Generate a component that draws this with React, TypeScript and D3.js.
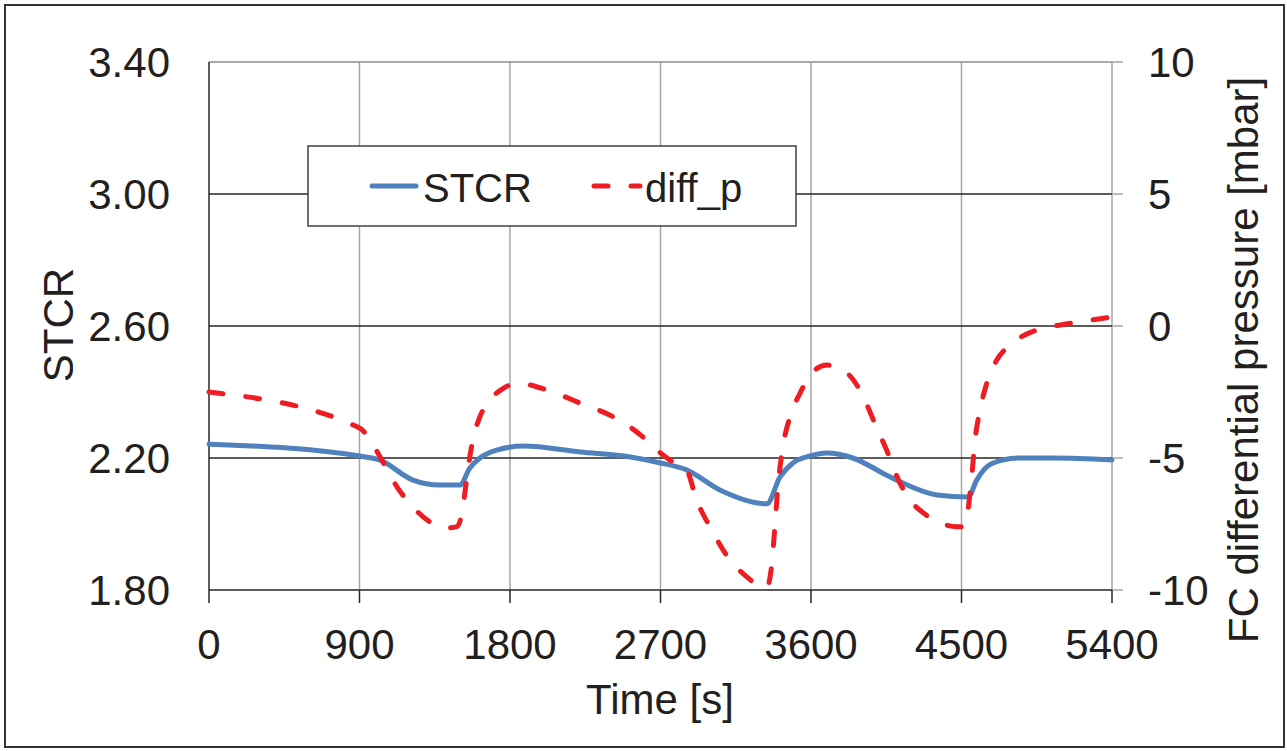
import React from 'react';
import * as d3 from 'd3';

// Data
const stcrTime = [0, 900, 1020, 1220, 1380, 1500, 1560, 1620, 1720, 1880, 2220, 2520, 2700, 2856, 3055, 3336, 3414, 3492, 3594, 3694, 3850, 4052, 4150, 4353, 4540, 4591, 4651, 4747, 4850, 5050, 5400];
const stcrValue = [2.242, 2.206, 2.194, 2.133, 2.118, 2.118, 2.17, 2.2, 2.224, 2.236, 2.218, 2.203, 2.185, 2.164, 2.103, 2.061, 2.142, 2.185, 2.206, 2.215, 2.2, 2.148, 2.124, 2.088, 2.082, 2.133, 2.173, 2.194, 2.2, 2.2, 2.194];

const dpTime = [0, 900, 963, 1023, 1125, 1220, 1321, 1422, 1482, 1512, 1530, 1548, 1578, 1620, 1680, 1760, 1842, 2020, 2218, 2417, 2589, 2679, 2757, 2856, 2916, 2995, 3115, 3216, 3294, 3336, 3366, 3384, 3402, 3432, 3474, 3534, 3594, 3694, 3774, 3854, 3913, 3973, 4052, 4132, 4192, 4272, 4373, 4473, 4513, 4539, 4563, 4581, 4611, 4651, 4711, 4791, 4950, 5100, 5250, 5400];
const dpValue = [-2.5, -3.86, -4.32, -4.96, -6.1, -6.86, -7.42, -7.65, -7.6, -7.1, -6.33, -5.45, -4.32, -3.44, -2.8, -2.36, -2.17, -2.42, -2.92, -3.44, -4.17, -4.7, -5.08, -5.45, -6.59, -7.6, -8.86, -9.5, -9.85, -9.89, -8.98, -7.6, -6.1, -4.58, -3.44, -2.55, -1.86, -1.48, -1.6, -2.05, -2.68, -3.56, -4.7, -5.95, -6.59, -7.08, -7.46, -7.6, -7.6, -6.97, -5.57, -4.32, -3.18, -2.17, -1.29, -0.72, -0.15, 0.05, 0.2, 0.34];

const timeTicks = [0, 900, 1800, 2700, 3600, 4500, 5400];
const stcrTicks = [1.8, 2.2, 2.6, 3.0, 3.4];
const dpTicks = [-10, -5, 0, 5, 10];

const W = 1287;
const H = 751;
const FONT = '"Liberation Sans", Arial, sans-serif';
const BLUE = '#4F81BD';
const RED = '#EE1D23';

export default function App() {
  const margin = { left: 209, right: 1112, top: 62, bottom: 590 };

  const x = d3.scaleLinear().domain([0, 5400]).range([margin.left, margin.right]);
  const yL = d3.scaleLinear().domain([1.8, 3.4]).range([margin.bottom, margin.top]);
  const yR = d3.scaleLinear().domain([-10, 10]).range([margin.bottom, margin.top]);

  const stcrData = stcrTime.map((t, i) => [t, stcrValue[i]] as [number, number]);
  const dpData = dpTime.map((t, i) => [t, dpValue[i]] as [number, number]);

  const stcrLine = d3.line<[number, number]>()
    .x(d => x(d[0]))
    .y(d => yL(d[1]))
    .curve(d3.curveMonotoneX);
  const dpLine = d3.line<[number, number]>()
    .x(d => x(d[0]))
    .y(d => yR(d[1]))
    .curve(d3.curveMonotoneX);

  return (
    <svg width={W} height={H} style={{ position: 'absolute', left: 0, top: 0, background: '#fff' }} fontFamily={FONT}>
      <rect x={5} y={5} width={1279} height={742} fill="#fff" stroke="#333" strokeWidth={2} />

      {/* vertical gridlines */}
      {timeTicks.slice(1).map(t => (
        <line key={'vg' + t} x1={x(t)} x2={x(t)} y1={margin.top} y2={margin.bottom} stroke="#A6A6A6" strokeWidth={1.5} />
      ))}

      {/* horizontal gridlines */}
      {stcrTicks.slice(1, -1).map(v => (
        <line key={'hg' + v} x1={margin.left} x2={margin.right} y1={yL(v)} y2={yL(v)} stroke="#262626" strokeWidth={1.5} />
      ))}
      <line x1={margin.left} x2={margin.right} y1={margin.top} y2={margin.top} stroke="#8C8C8C" strokeWidth={1.5} />

      {/* right axis ticks */}
      {dpTicks.map(v => (
        <line key={'rt' + v} x1={margin.right} x2={margin.right + 11} y1={yR(v)} y2={yR(v)} stroke="#A6A6A6" strokeWidth={1.5} />
      ))}

      {/* left and bottom axes */}
      <line x1={margin.left} x2={margin.left} y1={margin.top} y2={margin.bottom} stroke="#262626" strokeWidth={1.5} />
      <line x1={margin.left} x2={margin.right} y1={margin.bottom} y2={margin.bottom} stroke="#262626" strokeWidth={1.5} />
      {timeTicks.map(t => (
        <line key={'bt' + t} x1={x(t)} x2={x(t)} y1={margin.bottom} y2={margin.bottom + 13} stroke="#262626" strokeWidth={1.5} />
      ))}

      {/* series */}
      <path d={stcrLine(stcrData) || ''} fill="none" stroke={BLUE} strokeWidth={5} strokeLinejoin="round" strokeLinecap="round" />
      <path d={dpLine(dpData) || ''} fill="none" stroke={RED} strokeWidth={5} strokeDasharray="14,23" strokeLinecap="round" strokeLinejoin="round" />

      {/* tick labels */}
      {timeTicks.map(t => (
        <text key={'xl' + t} x={x(t)} y={659} textAnchor="middle" fontSize={42} fill="#231F20">{t}</text>
      ))}
      {stcrTicks.map(v => (
        <text key={'yl' + v} x={170} y={yL(v)} dy="0.355em" textAnchor="end" fontSize={42} fill="#231F20">{v.toFixed(2)}</text>
      ))}
      {dpTicks.map(v => (
        <text key={'yr' + v} x={1148} y={yR(v)} dy="0.355em" textAnchor="start" fontSize={42} fill="#231F20">{v}</text>
      ))}

      {/* axis titles */}
      <text x={660} y={714} textAnchor="middle" fontSize={42} fill="#231F20">Time [s]</text>
      <text transform="translate(73,325) rotate(-90)" textAnchor="middle" fontSize={42} fill="#231F20">STCR</text>
      <text transform="translate(1258,360) rotate(-90)" textAnchor="middle" fontSize={42} fill="#231F20">FC differential pressure [mbar]</text>

      {/* legend */}
      <rect x={308} y={146} width={488} height={80} fill="#fff" stroke="#404040" strokeWidth={1.5} />
      <line x1={372} x2={416} y1={186} y2={186} stroke={BLUE} strokeWidth={5} strokeLinecap="round" />
      <text x={423} y={202} fontSize={40} fill="#231F20">STCR</text>
      <line x1={594} x2={640} y1={186} y2={186} stroke={RED} strokeWidth={5} strokeLinecap="round" strokeDasharray="14,23" />
      <text x={645} y={202} fontSize={40} fill="#231F20">diff_p</text>
    </svg>
  );
}
